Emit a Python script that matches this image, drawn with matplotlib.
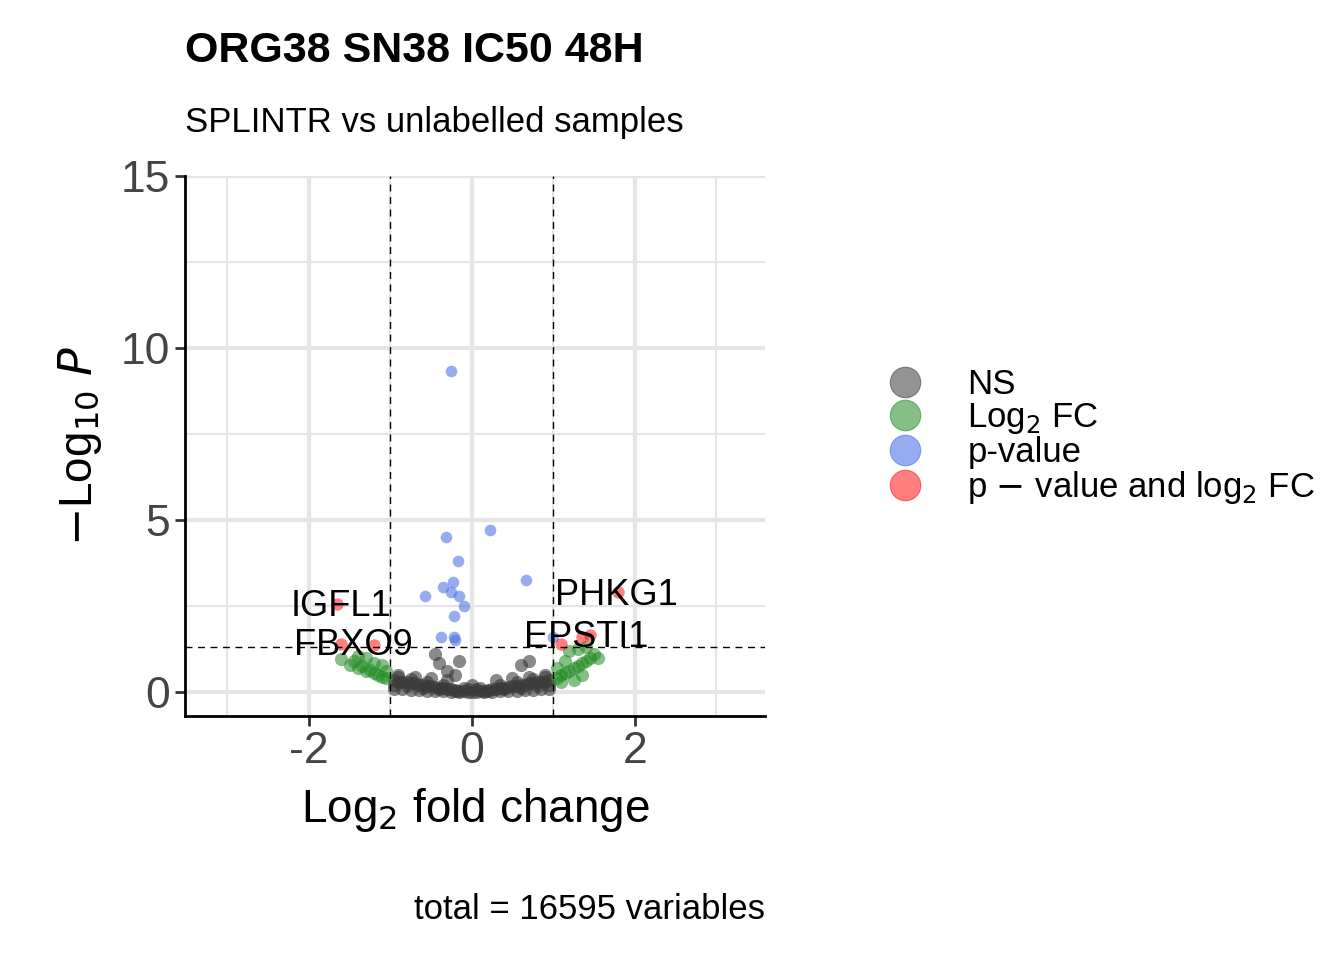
import numpy as np
import matplotlib.pyplot as plt
from matplotlib.lines import Line2D

plt.rcParams['font.family'] = ['Liberation Sans', 'DejaVu Sans']

# gray (NS) points
ns_x = [-0.95, -0.9, -0.85, -0.8, -0.75, -0.7, -0.65, -0.6, -0.55, -0.5, -0.45, -0.4, -0.35,
        -0.3, -0.25, -0.2, -0.15, -0.1, -0.05, 0.0, 0.05, 0.1, 0.15, 0.2, 0.25, 0.3, 0.35,
        0.4, 0.45, 0.5, 0.55, 0.6, 0.65, 0.7, 0.75, 0.8, 0.85, 0.9, 0.95,
        -0.95, -0.85, -0.75, -0.65, -0.55, -0.45, -0.35, -0.25, -0.15, 0.15, 0.25, 0.35,
        0.45, 0.55, 0.65, 0.75, 0.85, 0.95, -0.45, -0.4, -0.3, -0.2, -0.15, 0.6, 0.7,
        -0.9, -0.7, -0.5, -0.3, 0.3, 0.5, 0.7, 0.9, -0.05, 0.05, 0.0,
        -0.95, -0.8, -0.6, -0.4, -0.2, 0.2, 0.4, 0.6, 0.8, 0.95,
        -0.9, -0.75, -0.55, -0.35, 0.35, 0.55, 0.75, 0.9, -0.1, 0.1]
ns_y = [0.35, 0.3, 0.3, 0.28, 0.25, 0.25, 0.22, 0.2, 0.18, 0.17, 0.15, 0.13, 0.12,
        0.1, 0.08, 0.06, 0.04, 0.03, 0.01, 0.0, 0.01, 0.03, 0.04, 0.06, 0.08, 0.1, 0.12,
        0.13, 0.15, 0.17, 0.18, 0.2, 0.22, 0.25, 0.25, 0.28, 0.3, 0.3, 0.35,
        0.1, 0.08, 0.06, 0.05, 0.04, 0.03, 0.02, 0.01, 0.0, 0.0, 0.01, 0.02,
        0.03, 0.04, 0.05, 0.06, 0.08, 0.1, 1.1, 0.85, 0.6, 0.5, 0.9, 0.8, 0.9,
        0.5, 0.45, 0.4, 0.35, 0.35, 0.4, 0.45, 0.5, 0.1, 0.1, 0.2,
        0.2, 0.18, 0.12, 0.08, 0.03, 0.03, 0.08, 0.12, 0.18, 0.2,
        0.45, 0.38, 0.3, 0.22, 0.22, 0.3, 0.38, 0.45, 0.12, 0.12]

fc_x = [-1.6, -1.5, -1.45, -1.4, -1.35, -1.3, -1.25, -1.2, -1.15, -1.1, -1.05, -1.3, -1.2,
        1.05, 1.1, 1.15, 1.2, 1.25, 1.3, 1.35, 1.4, 1.45, 1.5, 1.55, 1.2, 1.3, 1.4, 1.1, 1.25,
        -1.4, -1.1, -1.05, 1.05, 1.15, 1.35]
fc_y = [0.95, 0.8, 0.9, 0.7, 0.75, 0.6, 0.65, 0.55, 0.5, 0.45, 0.4, 1.0, 0.85,
        0.4, 0.5, 0.55, 0.6, 0.7, 0.75, 0.85, 0.9, 1.0, 1.1, 1.0, 1.2, 1.25, 1.3, 0.3, 0.35,
        1.05, 0.8, 0.6, 0.7, 0.9, 0.5]

p_x = [-0.26, 0.22, -0.32, -0.17, 0.67, -0.23, -0.35, -0.25, -0.15, -0.57, -0.1, -0.22,
       -0.38, -0.22, -0.2, 1.0]
p_y = [9.33, 4.71, 4.5, 3.81, 3.25, 3.2, 3.05, 2.9, 2.8, 2.8, 2.5, 2.2, 1.6, 1.6, 1.5, 1.6]

both_x = [-1.65, -1.2, -1.6, 1.8, 1.35, 1.45, 1.1]
both_y = [2.55, 1.37, 1.4, 2.9, 1.6, 1.65, 1.4]

lab_names = ['IGFL1', 'FBXO9', 'PHKG1', 'EPSTI1']
lab_x = [-1.6, -1.45, 1.77, 1.4]
lab_y = [2.5, 1.35, 2.8, 1.6]

fig = plt.figure(figsize=(13.44, 9.6), dpi=100)
ax = fig.add_axes([0.1376, 0.254, 0.4316, 0.5627])

ax.scatter(ns_x, ns_y, s=90, color='#3a3a3a', alpha=0.6, lw=0)
ax.scatter(fc_x, fc_y, s=90, color='#228b22', alpha=0.55, lw=0)
ax.scatter(p_x, p_y, s=70, color='#4169e1', alpha=0.55, lw=0)
ax.scatter(both_x, both_y, s=80, color='#ff0000', alpha=0.5, lw=0)

for n, x, y in zip(lab_names, lab_x, lab_y):
    ax.text(x, y, n, fontsize=26, ha='center', va='center')

ax.axvline(-1, color='black', ls=(0, (5, 4)), lw=1)
ax.axvline(1, color='black', ls=(0, (5, 4)), lw=1)
ax.axhline(-np.log10(0.05), color='black', ls=(0, (5, 4)), lw=1)

ax.set_xlim(-3.52, 3.6)
ax.set_ylim(-0.7, 15)
ax.set_xticks([-2, 0, 2])
ax.set_xticklabels(['-2', '0', '2'])
ax.set_xticks([-3, -1, 1, 3], minor=True)
ax.set_yticks([0, 5, 10, 15])
ax.set_yticks([2.5, 7.5, 12.5], minor=True)
ax.grid(True, which='major', color='#e5e5e5', lw=3)
ax.grid(True, which='minor', color='#e5e5e5', lw=1.5)
ax.set_axisbelow(True)
for s in ['top', 'right']:
    ax.spines[s].set_visible(False)
for s in ['left', 'bottom']:
    ax.spines[s].set_linewidth(2)
ax.tick_params(which='major', labelsize=32, width=2, length=7, colors='#333333',
               labelcolor='#444444')
ax.tick_params(which='minor', length=0)

ax.set_xlabel(r'Log$_2$ fold change', fontsize=33, labelpad=10)
ax.set_ylabel(r'$-$Log$_{10}$ $P$', fontsize=33, labelpad=12)

fig.text(0.1376, 0.947, 'ORG38 SN38 IC50 48H', fontsize=31, fontweight='bold', va='center')
fig.text(0.1376, 0.872, 'SPLINTR vs unlabelled samples', fontsize=25, va='center')
fig.text(0.569, 0.053, 'total = 16595 variables', fontsize=25, ha='right', va='center')

handles = [Line2D([], [], ls='', marker='o', ms=22, color=c, alpha=a, mew=0.8)
           for c, a in [('#3a3a3a', 0.55), ('#228b22', 0.55), ('#4169e1', 0.55), ('#ff0000', 0.5)]]
fig.legend(handles, ['NS', r'Log$_2$ FC', 'p-value', r'p $-$ value and log$_2$ FC'],
           loc='center left', bbox_to_anchor=(0.637, 0.545), frameon=False,
           fontsize=25, handletextpad=0.8, labelspacing=0.0, borderaxespad=0)

fig.savefig('out.png', dpi=100)
